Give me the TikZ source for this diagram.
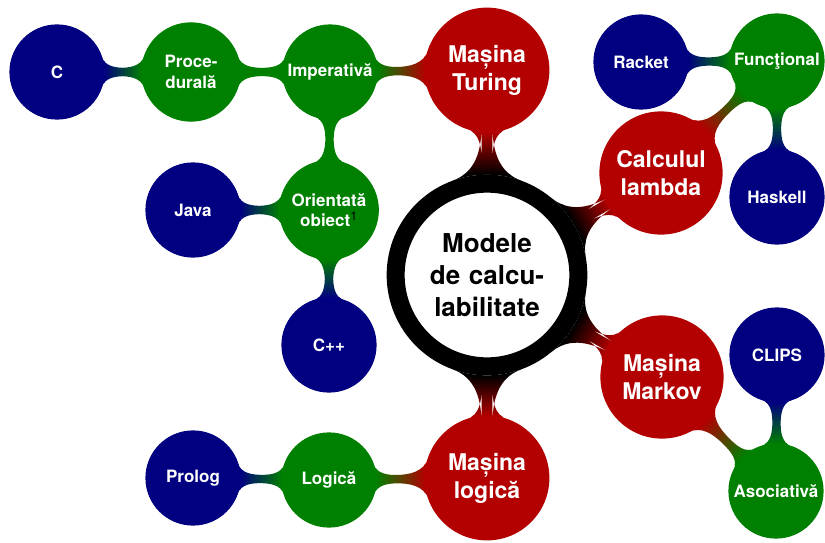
\documentclass[tikz,border=0pt]{standalone}
\usepackage{fontspec}
\setmainfont{TeX Gyre Heros}
\usetikzlibrary{mindmap,backgrounds}
\definecolor{cred}{RGB}{179,0,0}
\definecolor{cgreen}{RGB}{0,128,0}
\definecolor{cblue}{RGB}{0,0,128}
\begin{document}
\begin{tikzpicture}[x=1pt,y=-1pt,mindmap,
  rootnode/.style={concept, concept color=black, fill=white, draw=black, line width=18pt,
    minimum size=182pt, outer sep=9pt, text width=160pt, align=center, text=black,
    font=\bfseries\fontsize{26}{32}\selectfont},
  rednode/.style={concept, concept color=cred, minimum size=122pt, text width=110pt,
    align=center, text=white, font=\bfseries\fontsize{23}{28}\selectfont},
  greennode/.style={concept, concept color=cgreen, minimum size=94pt, text width=90pt,
    align=center, text=white, font=\bfseries\fontsize{17}{20.5}\selectfont},
  bluenode/.style={concept, concept color=cblue, minimum size=94pt, text width=90pt,
    align=center, text=white, font=\bfseries\fontsize{17}{20.5}\selectfont},
  link/.style args={#1/#2}{circle connection bar switch color=from (#1) to (#2)}
]
\useasboundingbox (0,0) rectangle (825,543);
\node[rootnode] (root) at (487,275) {Modele\\de calcu-\\labilitate};
\node[rednode] (turing) at (487,70) {Mașina\\Turing};
\node[rednode] (lambda) at (661,173) {Calculul\\lambda};
\node[rednode] (markov) at (662,377) {Mașina\\Markov};
\node[rednode] (logica) at (487,478) {Mașina\\logică};
\node[greennode] (imper) at (330,72) {Imperativă};
\node[greennode] (proc) at (191,72) {Proce-\\durală};
\node[bluenode] (c) at (57,72) {C};
\node[greennode] (oo) at (329,210) {Orientată\\obiect\textsuperscript{\color{black}\mdseries\fontsize{12.5}{12.5}\selectfont 1}};
\node[bluenode] (java) at (193,210) {Java};
\node[bluenode] (cpp) at (329,345) {C++};
\node[greennode] (logic) at (329,480) {Logică};
\node[bluenode] (prolog) at (193,478) {Prolog};
\node[greennode] (func) at (777,61) {Funcţional};
\node[bluenode] (racket) at (641,62) {Racket};
\node[bluenode] (haskell) at (777,197) {Haskell};
\node[greennode] (asoc) at (776,491) {Asociativă};
\node[bluenode] (clips) at (777,355) {CLIPS};
\begin{scope}[on background layer]
\path (root) to[link=black/cred] (turing);
\path (root) to[link=black/cred] (lambda);
\path (root) to[link=black/cred] (markov);
\path (root) to[link=black/cred] (logica);
\path (turing) to[link=cred/cgreen] (imper);
\path (imper) to[link=cgreen/cgreen] (proc);
\path (proc) to[link=cgreen/cblue] (c);
\path (imper) to[link=cgreen/cgreen] (oo);
\path (oo) to[link=cgreen/cblue] (java);
\path (oo) to[link=cgreen/cblue] (cpp);
\path (logica) to[link=cred/cgreen] (logic);
\path (logic) to[link=cgreen/cblue] (prolog);
\path (lambda) to[link=cred/cgreen] (func);
\path (func) to[link=cgreen/cblue] (racket);
\path (func) to[link=cgreen/cblue] (haskell);
\path (markov) to[link=cred/cgreen] (asoc);
\path (asoc) to[link=cgreen/cblue] (clips);
\end{scope}
\end{tikzpicture}
\end{document}
